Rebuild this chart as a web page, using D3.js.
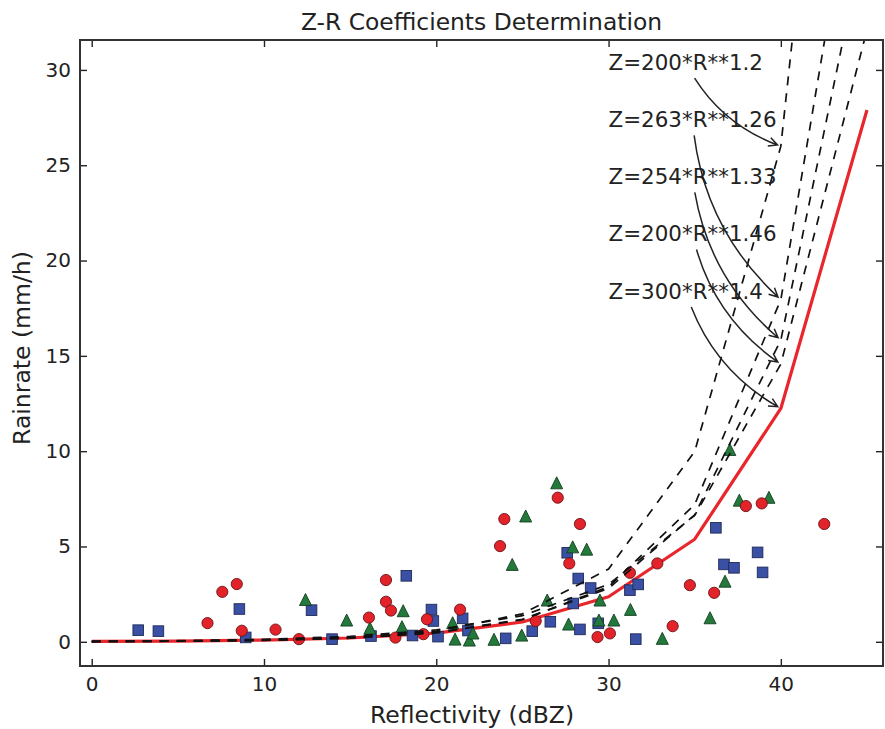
<!DOCTYPE html>
<html>
<head>
<meta charset="utf-8">
<script src="https://cdn.jsdelivr.net/npm/d3@7"></script>
<style>
  body { margin: 0; background: #fff; }
  text { font-family: "DejaVu Sans", sans-serif; fill: #222; }
</style>
</head>
<body>
<div id="chart"></div>
<script>
// reflectivity steps used by the Z-R curves
const dbzSteps = [0, 5, 10, 15, 20, 25, 30, 35, 40, 45];

// rain rate (mm/h) per Z-R relation
const rainMain = [0.017, 0.039, 0.088, 0.200, 0.456, 1.038, 2.363, 5.38, 12.24, 27.9];   // Z=300*R**1.4
const rain200_12 = [0.012, 0.032, 0.082, 0.215, 0.561, 1.465, 3.82, 9.98, 26.0, 68.0];
const rain263_126 = [0.012, 0.030, 0.075, 0.186, 0.464, 1.157, 2.886, 7.20, 17.95, 44.7];
const rain254_133 = [0.016, 0.037, 0.088, 0.209, 0.496, 1.179, 2.801, 6.66, 15.83, 37.6];
const rain200_146 = [0.027, 0.058, 0.129, 0.283, 0.622, 1.369, 3.01, 6.63, 14.57, 32.1];

// annotations
const annoLabels = ["Z=200*R**1.2", "Z=263*R**1.26", "Z=254*R**1.33", "Z=200*R**1.46", "Z=300*R**1.4"];
const annoTextX = 30;
const annoTextY = [30, 27, 24, 21, 18];
const annoTargetX = 40;
const annoTargetY = [26.0, 17.95, 15.83, 14.57, 12.24];

// observations [dBZ, mm/h]
const redCircles = [
  [6.72, 0.98], [7.58, 2.62], [8.42, 3.03], [8.71, 0.58], [10.67, 0.64], [12.03, 0.14],
  [16.09, 1.27], [17.08, 3.24], [17.08, 2.10], [17.37, 1.64], [17.63, 0.22], [19.25, 0.40],
  [19.46, 1.18], [21.38, 1.69], [23.70, 5.02], [23.95, 6.44], [25.77, 1.09], [27.05, 7.56],
  [27.72, 4.11], [28.34, 6.18], [29.36, 0.25], [30.08, 0.44], [31.24, 3.62], [32.83, 4.11],
  [33.72, 0.82], [34.72, 2.97], [36.13, 2.57], [37.97, 7.12], [38.89, 7.26], [42.52, 6.18]
];
const blueSquares = [
  [2.70, 0.61], [3.87, 0.56], [8.57, 1.72], [8.94, 0.23], [12.76, 1.66], [13.95, 0.14],
  [16.21, 0.30], [18.26, 3.46], [18.62, 0.33], [19.72, 1.69], [19.83, 1.09], [20.10, 0.27],
  [21.53, 1.23], [21.84, 0.59], [24.03, 0.18], [25.57, 0.56], [26.62, 1.05], [27.60, 4.67],
  [27.95, 2.01], [28.24, 3.32], [28.34, 0.65], [28.96, 2.82], [29.40, 0.97], [31.24, 2.71],
  [31.72, 3.01], [31.58, 0.14], [36.23, 5.98], [36.70, 4.06], [37.28, 3.88], [38.65, 4.69],
  [38.94, 3.64]
];
const greenTriangles = [
  [12.41, 2.22], [14.80, 1.14], [16.15, 0.72], [18.08, 1.63], [18.01, 0.79], [20.95, 1.00],
  [21.09, 0.14], [21.92, 0.09], [22.13, 0.46], [23.35, 0.13], [24.96, 0.35], [24.41, 4.06],
  [25.19, 6.60], [26.99, 8.34], [27.92, 4.98], [28.73, 4.86], [26.44, 2.19], [27.68, 0.93],
  [29.50, 2.19], [29.44, 1.14], [30.31, 1.14], [31.27, 1.70], [33.12, 0.18], [35.89, 1.26],
  [36.76, 3.18], [37.04, 10.09], [37.59, 7.43], [39.31, 7.58]
];

const xTicks = [0, 10, 20, 30, 40];
const yTicks = [0, 5, 10, 15, 20, 25, 30];

const W = 885, H = 729;
const margin = { top: 40, right: 2, bottom: 63, left: 80 };
const width = W - margin.left - margin.right;
const height = H - margin.top - margin.bottom;

const svg = d3.select("#chart").append("svg")
  .attr("width", W)
  .attr("height", H);

const g = svg.append("g")
  .attr("transform", `translate(${margin.left},${margin.top})`);

const x = d3.scaleLinear().domain([-0.68, 45.93]).range([0, width]);
const y = d3.scaleLinear().domain([-1.27, 31.57]).range([height, 0]);

svg.append("defs").append("clipPath")
  .attr("id", "plot-clip")
  .append("rect")
  .attr("width", width)
  .attr("height", height);

// Title
svg.append("text")
  .attr("x", margin.left + width / 2)
  .attr("y", 30)
  .attr("text-anchor", "middle")
  .style("font-size", "23.4px")
  .text("Z-R Coefficients Determination");

// Axes (ticks pointing inward on all four sides)
const tick = 7;
g.append("g")
  .attr("transform", `translate(0,${height})`)
  .call(d3.axisBottom(x).tickValues(xTicks).tickSizeInner(-tick).tickSizeOuter(0).tickPadding(11))
  .call(a => a.select(".domain").remove())
  .call(a => a.selectAll("text").style("font-size", "20px").attr("fill", "#222"));

g.append("g")
  .call(d3.axisLeft(y).tickValues(yTicks).tickSizeInner(-tick).tickSizeOuter(0).tickPadding(9))
  .call(a => a.select(".domain").remove())
  .call(a => a.selectAll("text").style("font-size", "20px").attr("fill", "#222"));

g.append("g")
  .call(d3.axisTop(x).tickValues(xTicks).tickSizeInner(-tick).tickSizeOuter(0).tickFormat(""))
  .call(a => a.select(".domain").remove());

g.append("g")
  .attr("transform", `translate(${width},0)`)
  .call(d3.axisRight(y).tickValues(yTicks).tickSizeInner(-tick).tickSizeOuter(0).tickFormat(""))
  .call(a => a.select(".domain").remove());

g.selectAll(".tick line").attr("stroke", "#222").attr("stroke-width", 1.4);

// Axis labels
svg.append("text")
  .attr("x", 472)
  .attr("y", 723)
  .attr("text-anchor", "middle")
  .style("font-size", "23.5px")
  .text("Reflectivity (dBZ)");

svg.append("text")
  .attr("transform", `translate(30,348) rotate(-90)`)
  .attr("text-anchor", "middle")
  .style("font-size", "23.5px")
  .text("Rainrate (mm/h)");

const plot = g.append("g").attr("clip-path", "url(#plot-clip)");

const line = d3.line()
  .x((d, i) => x(dbzSteps[i]))
  .y(d => y(d));

// Main Z-R curve
plot.append("path")
  .datum(rainMain)
  .attr("fill", "none")
  .attr("stroke", "#e8262c")
  .attr("stroke-width", 3.2)
  .attr("stroke-linejoin", "round")
  .attr("d", line);

// Observations
plot.selectAll(".sq")
  .data(blueSquares)
  .join("rect")
  .attr("class", "sq")
  .attr("x", d => x(d[0]) - 5.3)
  .attr("y", d => y(d[1]) - 5.3)
  .attr("width", 10.6)
  .attr("height", 10.6)
  .attr("fill", "#3a50a4")
  .attr("stroke", "#1f2a55")
  .attr("stroke-width", 0.9);

plot.selectAll(".tri")
  .data(greenTriangles)
  .join("path")
  .attr("class", "tri")
  .attr("transform", d => `translate(${x(d[0])},${y(d[1])})`)
  .attr("d", "M0,-6L6,6L-6,6Z")
  .attr("fill", "#23793b")
  .attr("stroke", "#143f20")
  .attr("stroke-width", 0.9);

plot.selectAll(".dot")
  .data(redCircles)
  .join("circle")
  .attr("class", "dot")
  .attr("cx", d => x(d[0]))
  .attr("cy", d => y(d[1]))
  .attr("r", 5.6)
  .attr("fill", "#e3232a")
  .attr("stroke", "#6b1216")
  .attr("stroke-width", 0.9);

// Alternative Z-R curves (dashed)
[rain200_12, rain263_126, rain254_133, rain200_146].forEach(series => {
  plot.append("path")
    .datum(series)
    .attr("fill", "none")
    .attr("stroke", "#111")
    .attr("stroke-width", 1.7)
    .attr("stroke-dasharray", "9,8")
    .attr("d", line);
});

// Annotations with curved arrows (arc3, rad=0.2)
const rad = 0.2;
const bez = (p0, p1, p2, t) => [
  (1 - t) * (1 - t) * p0[0] + 2 * (1 - t) * t * p1[0] + t * t * p2[0],
  (1 - t) * (1 - t) * p0[1] + 2 * (1 - t) * t * p1[1] + t * t * p2[1]
];

annoLabels.forEach((label, i) => {
  const txt = g.append("text")
    .attr("x", x(annoTextX))
    .attr("y", y(annoTextY[i]))
    .style("font-size", "21.4px")
    .text(label);
  const bb = txt.node().getBBox();

  const p0 = [bb.x + bb.width / 2, bb.y + bb.height / 2];
  const p2 = [x(annoTargetX), y(annoTargetY[i])];
  const dx = p2[0] - p0[0], dy = p2[1] - p0[1];
  const p1 = [(p0[0] + p2[0]) / 2 - rad * dy, (p0[1] + p2[1]) / 2 + rad * dx];

  const pad = 3;
  let t0 = 0, t1 = 1;
  for (let k = 0; k <= 500; k++) {
    const t = k / 500;
    const p = bez(p0, p1, p2, t);
    if (p[0] < bb.x - pad || p[0] > bb.x + bb.width + pad ||
        p[1] < bb.y - pad || p[1] > bb.y + bb.height + pad) { t0 = t; break; }
  }
  for (let k = 500; k >= 0; k--) {
    const t = k / 500;
    const p = bez(p0, p1, p2, t);
    if (Math.hypot(p[0] - p2[0], p[1] - p2[1]) >= 3.5) { t1 = t; break; }
  }
  const q0 = bez(p0, p1, p2, t0);
  const q2 = bez(p0, p1, p2, t1);
  const a = t0, b = t1;
  const q1 = [
    (1 - a) * (1 - b) * p0[0] + ((1 - a) * b + a * (1 - b)) * p1[0] + a * b * p2[0],
    (1 - a) * (1 - b) * p0[1] + ((1 - a) * b + a * (1 - b)) * p1[1] + a * b * p2[1]
  ];

  const path = d3.path();
  path.moveTo(q0[0], q0[1]);
  path.quadraticCurveTo(q1[0], q1[1], q2[0], q2[1]);

  // open "->" head
  const ang = Math.atan2(q2[1] - q1[1], q2[0] - q1[0]);
  const hl = 9.8, ha = 0.46;
  path.moveTo(q2[0] - hl * Math.cos(ang - ha), q2[1] - hl * Math.sin(ang - ha));
  path.lineTo(q2[0], q2[1]);
  path.lineTo(q2[0] - hl * Math.cos(ang + ha), q2[1] - hl * Math.sin(ang + ha));

  g.append("path")
    .attr("d", path.toString())
    .attr("fill", "none")
    .attr("stroke", "#222")
    .attr("stroke-width", 1.5);
});

// Frame
g.append("rect")
  .attr("width", width)
  .attr("height", height)
  .attr("fill", "none")
  .attr("stroke", "#333")
  .attr("stroke-width", 2);
</script>
</body>
</html>
